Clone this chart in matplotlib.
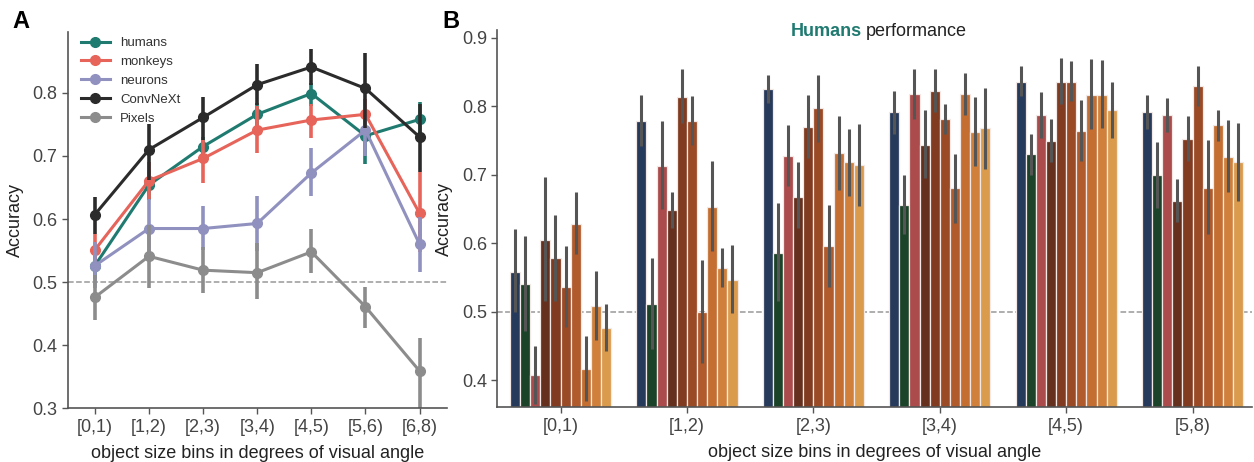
import numpy as np
import matplotlib.pyplot as plt

plt.rcParams['font.family'] = ['Liberation Sans', 'DejaVu Sans']

# panel A: accuracy per size bin, with lower / upper CI
bins_a = ['[0,1)', '[1,2)', '[2,3)', '[3,4)', '[4,5)', '[5,6)', '[6,8)']

humans = [0.526, 0.654, 0.715, 0.766, 0.799, 0.732, 0.758]
humans_lo = [0.505, 0.630, 0.700, 0.748, 0.780, 0.688, 0.732]
humans_hi = [0.548, 0.678, 0.730, 0.784, 0.816, 0.772, 0.786]

monkeys = [0.551, 0.661, 0.696, 0.741, 0.757, 0.766, 0.609]
monkeys_lo = [0.525, 0.632, 0.657, 0.705, 0.728, 0.742, 0.548]
monkeys_hi = [0.576, 0.690, 0.725, 0.779, 0.783, 0.790, 0.675]

neurons = [0.526, 0.585, 0.585, 0.593, 0.673, 0.741, 0.560]
neurons_lo = [0.490, 0.540, 0.551, 0.550, 0.636, 0.700, 0.516]
neurons_hi = [0.564, 0.632, 0.620, 0.636, 0.712, 0.762, 0.604]

convnext = [0.607, 0.710, 0.761, 0.813, 0.841, 0.807, 0.730]
convnext_lo = [0.577, 0.662, 0.725, 0.781, 0.812, 0.744, 0.675]
convnext_hi = [0.635, 0.751, 0.794, 0.846, 0.870, 0.863, 0.782]

pixels = [0.476, 0.541, 0.519, 0.515, 0.548, 0.461, 0.359]
pixels_lo = [0.440, 0.490, 0.482, 0.474, 0.514, 0.427, 0.292]
pixels_hi = [0.512, 0.590, 0.555, 0.562, 0.584, 0.493, 0.411]

# panel B: 10 bars per size bin (mean, lower, upper)
bins_b = ['[0,1)', '[1,2)', '[2,3)', '[3,4)', '[4,5)', '[5,8)']

bar_means = [
    [0.558, 0.540, 0.407, 0.605, 0.578, 0.536, 0.628, 0.416, 0.508, 0.476],
    [0.778, 0.511, 0.713, 0.648, 0.814, 0.778, 0.499, 0.653, 0.564, 0.546],
    [0.825, 0.585, 0.727, 0.668, 0.769, 0.797, 0.596, 0.731, 0.718, 0.714],
    [0.791, 0.656, 0.818, 0.744, 0.822, 0.781, 0.680, 0.818, 0.763, 0.768],
    [0.835, 0.730, 0.787, 0.749, 0.835, 0.835, 0.764, 0.816, 0.816, 0.794],
    [0.791, 0.700, 0.787, 0.662, 0.752, 0.829, 0.681, 0.772, 0.726, 0.719],
]
bar_lo = [
    [0.500, 0.472, 0.365, 0.515, 0.516, 0.478, 0.584, 0.369, 0.459, 0.443],
    [0.742, 0.445, 0.650, 0.622, 0.776, 0.743, 0.425, 0.588, 0.536, 0.498],
    [0.805, 0.515, 0.684, 0.622, 0.724, 0.748, 0.536, 0.678, 0.669, 0.655],
    [0.759, 0.614, 0.782, 0.695, 0.792, 0.760, 0.630, 0.787, 0.713, 0.709],
    [0.815, 0.700, 0.754, 0.718, 0.803, 0.807, 0.720, 0.766, 0.768, 0.753],
    [0.766, 0.652, 0.762, 0.631, 0.720, 0.800, 0.613, 0.749, 0.674, 0.662],
]
bar_hi = [
    [0.621, 0.611, 0.450, 0.697, 0.641, 0.596, 0.675, 0.465, 0.560, 0.511],
    [0.816, 0.579, 0.778, 0.675, 0.854, 0.815, 0.575, 0.720, 0.593, 0.597],
    [0.846, 0.658, 0.773, 0.718, 0.816, 0.846, 0.656, 0.786, 0.767, 0.774],
    [0.822, 0.699, 0.855, 0.794, 0.855, 0.803, 0.730, 0.849, 0.814, 0.826],
    [0.858, 0.760, 0.821, 0.781, 0.870, 0.866, 0.809, 0.869, 0.867, 0.836],
    [0.816, 0.747, 0.812, 0.693, 0.786, 0.858, 0.750, 0.794, 0.780, 0.776],
]
bar_colors = ['#263a5b', '#1b4329', '#ab4b4b', '#66301f', '#813b20', '#9b4a26',
              '#b15b2c', '#c46e31', '#d0803b', '#da9b4d']

series = [
    ('humans', humans, humans_lo, humans_hi, '#1f7a70'),
    ('monkeys', monkeys, monkeys_lo, monkeys_hi, '#e6645a'),
    ('neurons', neurons, neurons_lo, neurons_hi, '#9091bf'),
    ('ConvNeXt', convnext, convnext_lo, convnext_hi, '#2b2b2b'),
    ('Pixels', pixels, pixels_lo, pixels_hi, '#8c8c8c'),
]

fig = plt.figure(figsize=(12.54, 4.62), dpi=100)
axA = fig.add_axes([0.054, 0.1162, 0.3022, 0.8152])
axB = fig.add_axes([0.3966, 0.1184, 0.6018, 0.8166])

spine_c = '#555555'
tick_c = '#444444'
fs = 13

def style(ax):
    for s in ['top', 'right']:
        ax.spines[s].set_visible(False)
    for s in ['left', 'bottom']:
        ax.spines[s].set_color(spine_c)
        ax.spines[s].set_linewidth(1.2)
    ax.tick_params(colors=spine_c, labelcolor=tick_c, labelsize=fs, length=4, width=1)

# ---- panel A
xa = np.arange(len(bins_a))
axA.axhline(0.5, color='#999999', ls='--', lw=1.1, zorder=0)
for name, m, lo, hi, c in series:
    axA.vlines(xa, lo, hi, color=c, lw=2.6)
    axA.plot(xa, m, color=c, lw=2.2, marker='o', ms=7, label=name)
axA.set_xlim(-0.5, 6.5)
axA.set_ylim(0.3, 0.897)
axA.set_yticks([0.3, 0.4, 0.5, 0.6, 0.7, 0.8])
axA.set_xticks(xa)
axA.set_xticklabels(bins_a)
axA.set_ylabel('Accuracy', fontsize=fs, color='#222222', labelpad=6)
axA.set_xlabel('object size bins in degrees of visual angle', fontsize=fs,
               color='#222222', labelpad=7)
style(axA)
leg = axA.legend(loc='upper left', frameon=False, fontsize=9.5, handlelength=2.2,
                 labelspacing=0.5, borderaxespad=0.0, bbox_to_anchor=(0.02, 1.0))
for t in leg.get_texts():
    t.set_color('#333333')

# ---- panel B
xb = np.arange(len(bins_b))
w = 0.08
means = np.array(bar_means)
los = np.array(bar_lo)
his = np.array(bar_hi)
axB.axhline(0.5, color='#999999', ls='--', lw=1.1, zorder=0)
for i, c in enumerate(bar_colors):
    pos = xb + (i - 4.5) * w
    axB.bar(pos, means[:, i], width=w, color=c, edgecolor='#f2e9e6', lw=0.9, zorder=2)
    axB.vlines(pos, los[:, i], his[:, i], color='#555555', lw=2.2, zorder=3)
axB.set_xlim(-0.5, 5.47)
axB.set_ylim(0.3604, 0.9112)
axB.set_yticks([0.4, 0.5, 0.6, 0.7, 0.8, 0.9])
axB.set_xticks(xb)
axB.set_xticklabels(bins_b)
axB.set_ylabel('Accuracy', fontsize=fs, color='#222222', labelpad=6)
axB.set_xlabel('object size bins in degrees of visual angle', fontsize=fs,
               color='#222222', labelpad=7)
style(axB)

# title of panel B in two colours
fig.text(862 / 1254, 1 - 31 / 462, 'Humans', ha='right', va='center',
         fontsize=fs, fontweight='bold', color='#1f7a70')
fig.text(866 / 1254, 1 - 31 / 462, 'performance', ha='left', va='center',
         fontsize=fs, color='#222222')

fig.text(12 / 1254, 1 - 22 / 462, 'A', fontsize=17, fontweight='bold', va='center')
fig.text(442 / 1254, 1 - 22 / 462, 'B', fontsize=17, fontweight='bold', va='center')

fig.savefig('out.png', dpi=100)
